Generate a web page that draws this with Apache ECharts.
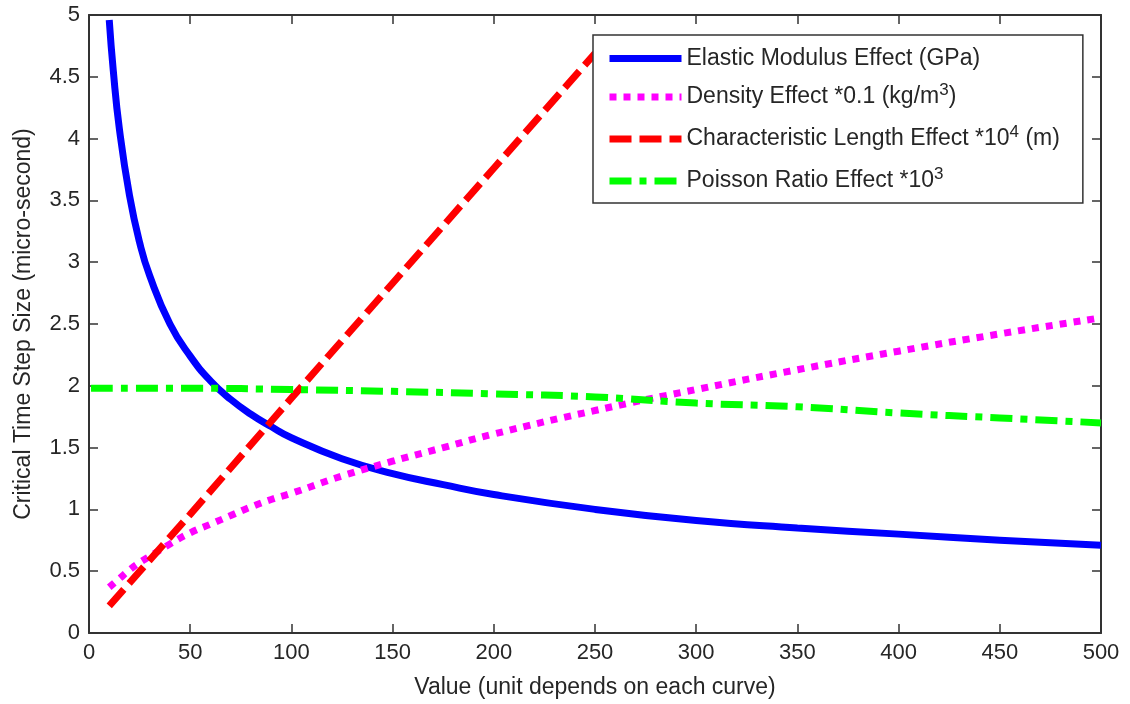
<!DOCTYPE html>
<html>
<head>
<meta charset="utf-8">
<script src="https://cdn.jsdelivr.net/npm/echarts@6/dist/echarts.min.js"></script>
<style>
  html, body { margin: 0; padding: 0; background: #fff; }
  #chart { width: 1130px; height: 704px; }
</style>
</head>
<body>
<div id="chart"></div>
<script>
//////////Data
var xTicks = [0, 50, 100, 150, 200, 250, 300, 350, 400, 450, 500];

var elasticX = [10, 12, 15, 20, 25, 30, 40, 50, 60, 70, 80, 90, 100, 125, 150, 175, 200, 250, 300, 350, 400, 450, 500];
var elasticY = [4.96, 4.55, 4.08, 3.54, 3.16, 2.89, 2.50, 2.24, 2.04, 1.89, 1.77, 1.67, 1.58, 1.41, 1.29, 1.20, 1.12, 1.00, 0.91, 0.85, 0.80, 0.75, 0.71];

var densityX = [10, 15, 20, 25, 30, 40, 50, 60, 70, 80, 90, 100, 125, 150, 175, 200, 250, 300, 350, 400, 450, 500];
var densityY = [0.37, 0.44, 0.51, 0.57, 0.62, 0.72, 0.81, 0.88, 0.95, 1.02, 1.08, 1.13, 1.27, 1.39, 1.50, 1.61, 1.80, 1.97, 2.13, 2.28, 2.42, 2.55];

var lengthX = [10, 50, 100, 150, 200, 250];
var lengthY = [0.22, 0.96, 1.90, 2.83, 3.76, 4.69];

var poissonX = [1, 50, 100, 150, 200, 250, 300, 350, 400, 450, 500];
var poissonY = [1.98, 1.98, 1.97, 1.955, 1.935, 1.91, 1.86, 1.83, 1.78, 1.74, 1.70];

var seriesNames = [
	'Elastic Modulus Effect (GPa)',
	'Density Effect *0.1 (kg/m3)',
	'Characteristic Length Effect *10^4 (m)',
	'Poisson Ratio Effect *10^3'
];
//rich text version of each legend entry (superscripts)
var legendLabels = [
	'{n|Elastic Modulus Effect (GPa)}',
	'{n|Density Effect *0.1 (kg/m}{sup|3}{n|)}',
	'{n|Characteristic Length Effect *10}{sup|4}{n| (m)}',
	'{n|Poisson Ratio Effect *10}{sup|3}'
];

function pairs(xs, ys) {
	var out = [];
	for (var i = 0; i < xs.length; i++) out.push([xs[i], ys[i]]);
	return out;
}

var FONT = '"Liberation Sans", Arial, Helvetica, sans-serif';
var TXT = '#262626';
var AXIS = '#333';

var chart = echarts.init(document.getElementById('chart'));

function baseAxis(extra) {
	var a = {
		type: 'value',
		axisLine: { show: true, onZero: false, lineStyle: { color: AXIS, width: 2 } },
		axisTick: { show: true, inside: true, length: 9, lineStyle: { color: AXIS, width: 1.5 } },
		splitLine: { show: false },
		axisLabel: { show: false }
	};
	for (var k in extra) a[k] = extra[k];
	return a;
}

var option = {
	backgroundColor: '#fff',
	animation: false,
	grid: { left: 89, right: 29, top: 15, bottom: 67, containLabel: false },
	legend: {
		orient: 'vertical',
		left: 593,
		top: 35,
		padding: [12, 23, 7, 13],
		itemGap: 12,
		itemWidth: 72,
		itemHeight: 14,
		backgroundColor: '#fff',
		borderColor: AXIS,
		borderWidth: 1.5,
		borderRadius: 0,
		data: seriesNames,
		lineStyle: { width: 7 },
		itemStyle: { opacity: 0 },
		formatter: function (name) {
			return legendLabels[seriesNames.indexOf(name)];
		},
		textStyle: {
			color: TXT,
			fontFamily: FONT,
			rich: {
				n: { fontFamily: FONT, fontSize: 23, color: TXT, lineHeight: 30 },
				sup: { fontFamily: FONT, fontSize: 17, color: TXT, lineHeight: 17, padding: [0, 0, 13, 0] }
			}
		}
	},
	xAxis: [
		baseAxis({
			position: 'bottom',
			min: 0, max: 500, interval: 50,
			name: 'Value (unit depends on each curve)',
			nameLocation: 'middle',
			nameGap: 43,
			nameTextStyle: { fontFamily: FONT, fontSize: 23, color: TXT },
			axisLabel: { show: true, margin: 9, fontFamily: FONT, fontSize: 22, color: TXT }
		}),
		baseAxis({ position: 'top', min: 0, max: 500, interval: 50 })
	],
	yAxis: [
		baseAxis({
			position: 'left',
			min: 0, max: 5, interval: 0.5,
			name: 'Critical Time Step Size (micro-second)',
			nameLocation: 'middle',
			nameGap: 54,
			nameTextStyle: { fontFamily: FONT, fontSize: 23, color: TXT },
			axisLabel: { show: true, margin: 9, fontFamily: FONT, fontSize: 22, color: TXT }
		}),
		baseAxis({ position: 'right', min: 0, max: 5, interval: 0.5 })
	],
	series: [
		{
			name: seriesNames[0], type: 'line', smooth: true, symbol: 'none', showSymbol: false,
			lineStyle: { color: '#0000ff', width: 7, type: 'solid' },
			itemStyle: { color: '#0000ff' },
			data: pairs(elasticX, elasticY)
		},
		{
			name: seriesNames[1], type: 'line', smooth: true, symbol: 'none', showSymbol: false,
			lineStyle: { color: '#ff00ff', width: 7, type: [7, 7], cap: 'butt' },
			itemStyle: { color: '#ff00ff' },
			data: pairs(densityX, densityY)
		},
		{
			name: seriesNames[2], type: 'line', symbol: 'none', showSymbol: false,
			lineStyle: { color: '#ff0000', width: 7, type: [22, 8], cap: 'butt' },
			itemStyle: { color: '#ff0000' },
			data: pairs(lengthX, lengthY)
		},
		{
			name: seriesNames[3], type: 'line', smooth: true, symbol: 'none', showSymbol: false,
			lineStyle: { color: '#00ff00', width: 7, type: [22, 8, 7, 8], cap: 'butt' },
			itemStyle: { color: '#00ff00' },
			data: pairs(poissonX, poissonY)
		}
	]
};
chart.setOption(option);
</script>
</body>
</html>
